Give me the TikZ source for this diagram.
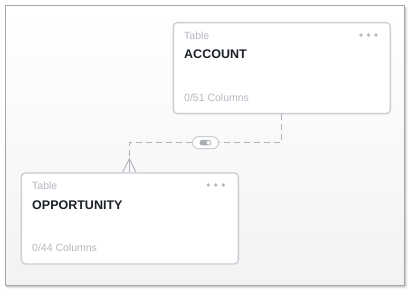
\documentclass[tikz,border=0pt]{standalone}
\usepackage{fontspec}
\setmainfont{Liberation Sans}
\definecolor{boxline}{HTML}{C9CDD5}
\definecolor{mutedtext}{HTML}{B4B8C0}
\definecolor{titletext}{HTML}{1B1F27}
\definecolor{connline}{HTML}{AEB2BA}
\definecolor{dotgray}{HTML}{B6BAC2}
\definecolor{framegray}{HTML}{A8A8A8}
\definecolor{knob}{HTML}{A9ADB5}
\begin{document}
\begin{tikzpicture}[x=1pt,y=-1pt,
  tablebox/.style={draw=boxline,line width=1.3pt,fill=white,rounded corners=4pt,
    minimum width=217pt,minimum height=91pt,anchor=north west,inner sep=0pt},
  kindlabel/.style={anchor=base west,inner sep=0pt,text=mutedtext,font=\fontsize{10.5}{12}\selectfont},
  titlelabel/.style={anchor=base west,inner sep=0pt,text=titletext,font=\fontsize{12.5}{14}\selectfont\bfseries},
  countlabel/.style={anchor=base west,inner sep=0pt,text=mutedtext,font=\fontsize{10.5}{12}\selectfont},
  menudot/.style={fill=dotgray,circle,inner sep=0pt,minimum size=3.6pt},
  conn/.style={draw=connline,line width=0.9pt,dash pattern=on 6pt off 4pt},
  crow/.style={draw=connline,line width=0.9pt},
  pillbox/.style={draw=boxline,line width=1pt,fill=white,rounded corners=6pt,
    minimum width=26pt,minimum height=12pt,inner sep=0pt}
]
\useasboundingbox (0,0) rectangle (414,296);

% canvas frame with soft drop shadow
\foreach \s/\o in {3.5/0.05,2.5/0.08,1.5/0.12}
  \fill[black,opacity=\o,rounded corners=1pt] (6,7) rectangle (404+\s,285+\s);
\shade[top color=white,middle color=white,bottom color=black!5] (5,6) rectangle (404,285);
\draw[framegray,line width=1pt] (5,6) rectangle (404,285);

% tables
\node[tablebox] (account) at (172.7,22) {};
\node[tablebox] (opp) at (20.7,172.3) {};

\node[kindlabel]  (account-kind)  at ([xshift=11.3pt,yshift=-17.5pt]account.north west) {Table};
\node[titlelabel] (account-title) at ([xshift=11.3pt,yshift=-37pt]account.north west) {ACCOUNT};
\node[countlabel] (account-count) at ([xshift=11.3pt,yshift=-79.5pt]account.north west) {0/51 Columns};
\foreach \dx [count=\i] in {30,22.5,15}
  \node[menudot] (account-dot\i) at ([xshift=-\dx pt,yshift=-13pt]account.north east) {};

\node[kindlabel]  (opp-kind)  at ([xshift=11.3pt,yshift=-17.5pt]opp.north west) {Table};
\node[titlelabel] (opp-title) at ([xshift=11.3pt,yshift=-37pt]opp.north west) {OPPORTUNITY};
\node[countlabel] (opp-count) at ([xshift=11.3pt,yshift=-79.5pt]opp.north west) {0/44 Columns};
\foreach \dx [count=\i] in {30.8,23.3,15.8}
  \node[menudot] (opp-dot\i) at ([xshift=-\dx pt,yshift=-12.7pt]opp.north east) {};

% relationship toggle
\node[pillbox] (pill) at (205.5,142.7) {};
\fill[knob,rounded corners=2.7pt] (199.5,140) rectangle (211.5,145.4);
\fill[white!92!knob] (208.6,142.7) circle (2pt);

% relationship connector
\coordinate (accfoot) at ([xshift=109pt]account.south west);
\coordinate (oppfoot) at ([xshift=108.6pt]opp.north west);
\draw[conn] (accfoot) |- (pill.east);
\draw[conn] (pill.west) -| (oppfoot);

% crow's foot at the many side
\draw[crow] (oppfoot) ++(0,-14) -- (oppfoot);
\draw[crow] (oppfoot) ++(-6.8,0) -- ++(6.8,-13.5) -- ++(6.8,13.5);
\end{tikzpicture}
\end{document}
